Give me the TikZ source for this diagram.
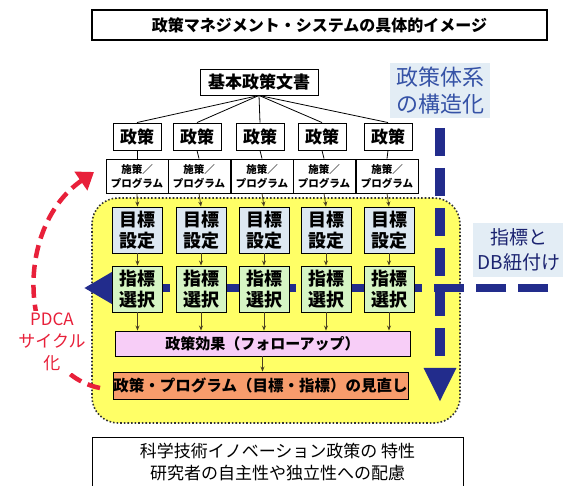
\documentclass[tikz,border=0pt]{standalone}
\usepackage{fontspec}
\setmainfont{Noto Sans CJK JP}
\usetikzlibrary{arrows.meta}
\definecolor{yel}{HTML}{FFFF66}
\definecolor{goalc}{HTML}{DDE8F2}
\definecolor{indc}{HTML}{D6F5C4}
\definecolor{effc}{HTML}{F7CDF7}
\definecolor{revc}{HTML}{F79C6C}
\definecolor{navy}{HTML}{222C8C}
\definecolor{lblbg}{HTML}{E3EDF5}
\definecolor{lbltxt}{HTML}{3552A6}
\definecolor{pdcared}{HTML}{E8203A}
\definecolor{arr}{HTML}{4A4020}
\begin{document}
\begin{tikzpicture}[x=1pt,y=-1pt,
  box/.style={draw=black, line width=0.9pt, inner sep=0pt, align=center},
  pol/.style={box, minimum width=48, minimum height=27, font=\fontsize{17}{18}\selectfont\bfseries},
  prog/.style={box, fill=white, minimum width=62, minimum height=34, font=\fontsize{10.5}{14}\selectfont\bfseries},
  goal/.style={box, fill=goalc, minimum width=50, minimum height=46, font=\fontsize{18}{21}\selectfont\bfseries},
  ind/.style={box, fill=indc, minimum width=50, minimum height=46, font=\fontsize{18}{21}\selectfont\bfseries},
  tree/.style={draw=black, line width=0.8pt},
  flow/.style={draw=arr, line width=0.8pt, -{Stealth[length=5pt,width=4pt]}},
  blue/.style={draw=navy, line width=9pt},
  lbl/.style={fill=lblbg, inner sep=4pt, align=center, text=lbltxt}
]
\useasboundingbox (0,0) rectangle (563,486);
\fill[white] (0,0) rectangle (563,486);

% title
\node[box, line width=1.6pt, minimum width=455, minimum height=30, font=\fontsize{16}{18}\selectfont\bfseries] (title) at (319.5,25) {政策マネジメント・システムの具体的イメージ};

% yellow region
\draw[fill=yel, draw=black!80, line width=1.6pt, dotted, rounded corners=26] (92,198) rectangle (460,423);

% blue dashed arrows
\coordinate (hs) at (548,288);
\coordinate (he) at (84,288);
\draw[blue, line width=8pt, dash pattern=on 30pt off 12pt, -{Triangle[length=28pt,width=30pt]}] (hs) -- (he);
\coordinate (vs) at (440,128);
\coordinate (ve) at (440,402);
\draw[blue, line width=10pt, dash pattern=on 28pt off 12pt, -{Triangle[length=34pt,width=30pt]}] (vs) -- (ve);

% labels
\node[lbl, minimum width=100, minimum height=55, font=\fontsize{22}{27}\selectfont] (struct) at (440,90.5) {政策体系\\の構造化};
\fill[lblbg] (473,223) rectangle (563,277);
\node[align=center, inner sep=0pt, font=\fontsize{19}{25}\selectfont, text=navy!80!black] (db) at (519,250) {指標と\\DB紐付け};

% tree
\node[box, minimum width=118, minimum height=26, font=\fontsize{17}{18}\selectfont\bfseries] (top) at (259,82) {基本政策文書};
\foreach \i/\x in {1/137,2/197,3/260,4/322,5/388}{
  \node[pol] (p\i) at (\x,136.5) {政策};
}
\foreach \i/\x in {1/137,2/199,3/262,4/324,5/387}{
  \node[prog] (g\i) at (\x,176) {施策／\\プログラム};
}
\foreach \i/\x in {1/137.5,2/201,3/264,4/326,5/389}{
  \node[goal] (m\i) at (\x,230) {目標\\設定};
  \node[ind] (s\i) at (\x,289) {指標\\選択};
}
\node[box, fill=effc, minimum width=295, minimum height=25, font=\fontsize{15}{17}\selectfont\bfseries] (eff) at (262.5,343.5) {政策効果（フォローアップ）};
\node[box, fill=revc, minimum width=295, minimum height=27, font=\fontsize{15.5}{17}\selectfont\bfseries] (rev) at (260.5,385.5) {政策・プログラム（目標・指標）の見直し};

\foreach \i in {1,...,5}{
  \draw[tree] (top.south) -- (p\i.north);
  \draw[tree] (p\i.south) -- (g\i.north);
  \draw[flow] (g\i.south) -- (m\i.north);
  \draw[flow] (m\i.south) -- (s\i.north);
  \draw[flow] (s\i.south) -- (s\i.south |- eff.north);
}
\draw[flow] (eff.south) -- (eff.south |- rev.north);

% PDCA
\coordinate (ps) at (100,388);
\coordinate (pe) at (94,172);
\draw[draw=pdcared, line width=4.5pt, dash pattern=on 13pt off 7pt, -{Triangle[length=16pt,width=22pt]}] (ps) .. controls (20,372) and (10,230) .. (pe);
\node[fill=white, inner sep=2pt, align=center, text=pdcared, font=\fontsize{17}{22}\selectfont] (pdca) at (52,342) {PDCA\\サイクル\\化};

% bottom box
\node[box, line width=1.4pt, minimum width=371, minimum height=54, anchor=north west] (bot) at (92,437) {};
\node[font=\fontsize{17}{22}\selectfont, align=center, anchor=north] (bottxt) at (277.5,440) {科学技術イノベーション政策の 特性\\研究者の自主性や独立性への配慮};
\end{tikzpicture}
\end{document}
